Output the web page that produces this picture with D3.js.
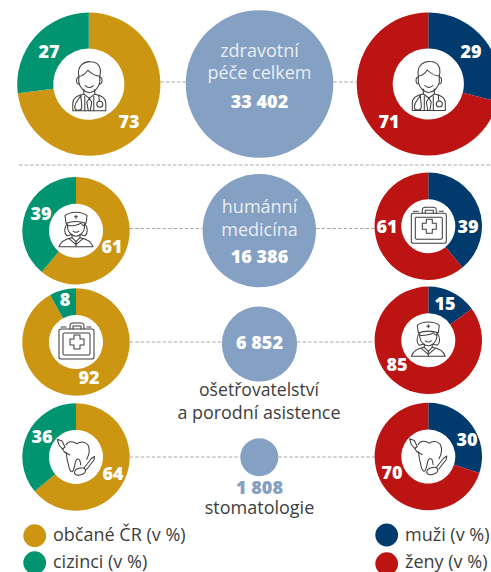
<!DOCTYPE html>
<html><head><meta charset="utf-8">
<script src="https://cdnjs.cloudflare.com/ajax/libs/d3/7.8.5/d3.min.js"></script>
<style>html,body{margin:0;padding:0;background:#fff}svg{display:block}text{font-family:"Open Sans",sans-serif}</style>
</head><body><svg id="c" width="491" height="572"></svg>
<script>
// ---- data ----
const rows = ["zdravotní péče celkem","humánní medicína","ošetřovatelství a porodní asistence","stomatologie"];
const totals = [33402,16386,6852,1808];
const totalLabels = ["33 402","16 386","6 852","1 808"];
const obcane = [73,61,92,64];
const cizinci = [27,39,8,36];
const muzi = [29,39,15,30];
const zeny = [71,61,85,70];
const legendLeft = ["občané ČR (v %)","cizinci (v %)"];
const legendRight = ["muži (v %)","ženy (v %)"];
// ---- layout ----
const COL = {gold:"#CC9612",green:"#009570",navy:"#013A6C",red:"#BB1413",blue:"#84A0C2",text:"#3d3d3d",dash:"#a9a9a9",icon:"#3f3f3f",light:"#e9eef5"};
const layout = [
 {lc:[88.8,84.2],rc:[428.3,84],R:71.6,r:35.6,mid:[259.5,84],ly:82,lIcon:"doctor",rIcon:"doctor",
  ll:[[129,122],[49,52]],rl:[[471,52],[389,122]]},
 {lc:[76,230.7],rc:[428.3,226.2],R:53.7,r:27,mid:[259.3,230.6],ly:228.5,lIcon:"nurse",rIcon:"kit",
  ll:[[112,247],[41,214]],rl:[[468,227],[387,227]]},
 {lc:[76,342],rc:[428.3,340.3],R:53.7,r:27,mid:[259.5,344],ly:342,lIcon:"kit",rIcon:"nurse",
  ll:[[89,378],[65,300]],rl:[[445,304],[397,365]]},
 {lc:[76,457],rc:[428.3,456.5],R:53.7,r:27,mid:[259.3,457.3],ly:457,lIcon:"tooth",rIcon:"tooth",
  ll:[[113,474],[42,437]],rl:[[467,440],[392,473]]}
];
const svg = d3.select("#c");
const rScale = d3.scaleSqrt().domain([1808,6852,16386,33402]).range([19,37.6,56.7,73.8]);
const pie = d3.pie().sort(null).value(d=>d);

const icons = {
 doctor:[
  "M-10,-8 C-12,-19 -4,-23 2,-22.5 C10,-22.5 13,-16 11,-8",
  "M-10,-8 L-10,-2 C-9,4 -4,8.5 0.5,8.5 C5,8.5 10,4 11,-2 L11,-8 C6,-8 2,-11 -1,-14 C-3,-11 -6,-8 -10,-8",
  "M-10,-7 C-13,-7 -13,0 -10,0 M11,-7 C14,-7 14,0 11,0",
  "M-3.5,1.5 C-1.5,4 2.5,4 4.5,1.5",
  "M-5,5 L-5,10 L0.5,14 L6,10 L6,5",
  "M-5,10 C-11,11 -16,13 -16,19 L-16,26.5 L17,26.5 L17,19 C17,13 12,11 6,10",
  "M0.5,14 L-2,18 L-0.5,26.5 M0.5,14 L3,18 L1.5,26.5 M-4,12 L-4,26.5 M5,12 L5,26.5",
  "M-8,11 C-9,15 -14,17 -14,23 C-14,27 -7,27 -7,23 C-7,18 -8,15 -8,11",
  "M10,11 L10.5,17",
  "M8,20 A3,3 0 1 0 14,20 A3,3 0 1 0 8,20"
 ],
 nurse:[
  "M-10,-7.5 L-11,-15 C-6,-19.5 6,-19.5 11,-15 L10,-7.5 C4,-9.5 -4,-9.5 -10,-7.5",
  "M-1.5,-14 L1.5,-14 M0,-15.5 L0,-12.5",
  "M-8.5,-7 L-8.5,-3 C-8,2.5 -3,5.5 0,5.5 C3,5.5 8,2.5 8.5,-3 L8.5,-7",
  "M-8.5,-5 C-3,-4.5 3,-6 5,-7.5 C6,-6 7,-5 8.5,-5",
  "M-9,-7 C-12,-3 -12,3 -9,5 L-5,4 M9,-7 C12,-3 12,3 9,5 L5,4",
  "M-3,0.5 C-1,2 1,2 3,0.5",
  "M-4,4 L-4,7 L0,11 L4,7 L4,4",
  "M-4,7 C-10,8 -15,10 -17,16 L17,16 C15,10 10,8 4,7",
  "M-7,8 L0,14 L7,8 M0,11 L0,16"
 ],
 kit:[
  "M-15,-13 L16,-13 Q18,-13 18,-11 L18,15 Q18,17 16,17 L-15,17 Q-17,17 -17,15 L-17,-11 Q-17,-13 -15,-13 Z",
  "M-12,-9 L13,-9 L14,-8 L14,12 L13,13 L-12,13 L-13,12 L-13,-8 Z",
  "M-6,-13 L-6,-16 Q-6,-19 -3,-19 L5,-19 Q8,-19 8,-16 L8,-13 M-3,-13 L-3,-16 L5,-16 L5,-13",
  "M-2,-7 L4,-7 L4,-3 L8,-3 L8,3 L4,3 L4,7 L-2,7 L-2,3 L-6,3 L-6,-3 L-2,-3 Z",
  "M-15,-15 L-10,-15 M11,-15 L15,-15"
 ],
 tooth:[
  "M-10,-12 C-8,-16 -3,-16 0.7,-13.3 C4,-15.5 9,-16 12,-12 C14.5,-7 13,-2 10.7,2.3",
  "M-10,-5 C-9,0 -9,4 -7.7,7 C-7,12 -5.5,15 -4,14.7 C-2.5,14.5 -2,11 -1,7 C-0.5,4 0.5,2 2,2 C3.5,2 4.5,5 4.7,8",
  "M-18.7,-17.7 L-14,-16 L-11,-10 L-13.5,-8 L-17,-12 Z",
  "M-13.5,-8 C-12,-6 -12,-4.5 -10,-4 C-8,-3.5 -7,-2 -6,-2",
  "M-1.5,16 A5.5,3.3 -15 1 1 9.5,13 A5.5,3.3 -15 1 1 -1.5,16 Z",
  "M8,11 L15.5,1.5 L18.5,-0.5 L18,3 L10.5,12.5"
 ]
};
function drawIcon(name,c){
  svg.append("g").attr("transform",`translate(${c[0]},${c[1]})`)
    .selectAll("path").data(icons[name]).join("path").attr("d",d=>d)
    .attr("fill","none").attr("stroke",COL.icon).attr("stroke-width",1.05)
    .attr("stroke-linejoin","round").attr("stroke-linecap","round");
}
function donut(values,colors,c,R,r,labels,iconName){
  const arc = d3.arc().innerRadius(r).outerRadius(R);
  svg.append("g").attr("transform",`translate(${c[0]},${c[1]})`)
    .selectAll("path").data(pie(values)).join("path").attr("d",arc)
    .attr("fill",(d,i)=>colors[i]);
  svg.append("g").selectAll("text").data(values).join("text")
    .attr("x",(d,i)=>labels[i][0]).attr("y",(d,i)=>labels[i][1]+6.4)
    .attr("text-anchor","middle").attr("font-size",18).attr("font-weight",800)
    .attr("fill","#fff").text(d=>d);
  drawIcon(iconName,c);
}
// dashed connectors
const dash = (x1,x2,y)=>svg.append("line").attr("x1",x1).attr("x2",x2).attr("y1",y).attr("y2",y)
  .attr("stroke",COL.dash).attr("stroke-width",1).attr("stroke-dasharray","3.5 2");
dash(19,491,165);
layout.forEach((l,i)=>{
  dash(l.lc[0]+l.R,l.mid[0]-rScale(totals[i]),l.ly);
  dash(l.mid[0]+rScale(totals[i]),l.rc[0]-l.R,l.ly);
});
layout.forEach((l,i)=>{
  svg.append("circle").attr("cx",l.mid[0]).attr("cy",l.mid[1]).attr("r",rScale(totals[i])).attr("fill",COL.blue);
  donut([obcane[i],cizinci[i]],[COL.gold,COL.green],l.lc,l.R,l.r,l.ll,l.lIcon);
  donut([muzi[i],zeny[i]],[COL.navy,COL.red],l.rc,l.R,l.r,l.rl,l.rIcon);
});
// centre text
const T=(t,x,y,size,fill,weight)=>svg.append("text").attr("x",x).attr("y",y).attr("text-anchor","middle")
  .attr("font-size",size).attr("font-weight",weight||400).attr("fill",fill).text(t);
T("zdravotní",259.5,57,18,COL.light);
T("péče celkem",259.5,79,18,COL.light);
T(totalLabels[0],259.5,108,18,"#fff",800);
T("humánní",259.5,213,18,COL.light);
T("medicína",259.5,236,18,COL.light);
T(totalLabels[1],259.5,263,18,"#fff",800);
T(totalLabels[2],259.5,349,18,"#fff",800);
T("ošetřovatelství",259,396,17.6,COL.text);
T("a porodní asistence",259,418.5,17.9,COL.text);
T(totalLabels[3],259.5,494,18,COL.blue,800);
T("stomatologie",259.5,514,18,COL.text);
// legends
const lg=(cx,tx,ys,bs,names,cols)=>names.forEach((n,i)=>{
  svg.append("circle").attr("cx",cx).attr("cy",ys[i]).attr("r",11.4).attr("fill",cols[i]);
  svg.append("text").attr("x",tx).attr("y",bs[i]).attr("font-size",18).attr("fill",COL.text).text(n);
});
lg(34.7,53,[535.7,562.7],[541,567.5],legendLeft,[COL.gold,COL.green]);
lg(386.7,405,[535,563.7],[540.5,567.5],legendRight,[COL.navy,COL.red]);
</script></body></html>
